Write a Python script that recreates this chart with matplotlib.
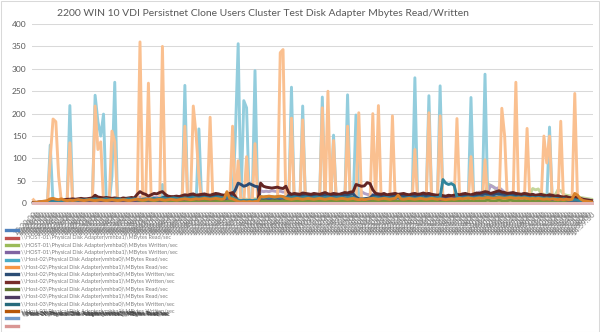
import matplotlib
matplotlib.use("Agg")
import matplotlib.pyplot as plt
from matplotlib.lines import Line2D
from matplotlib.patches import Rectangle
import pandas as pd

plt.rcParams['font.family'] = ['Lato', 'DejaVu Sans']

title = "2200 WIN 10 VDI Persistnet Clone Users Cluster Test Disk Adapter Mbytes Read/Written"

# perfmon sample times (category axis)
times = pd.date_range("2016-10-18 13:20:00", periods=200, freq="30s")
categories = [t.strftime("%H:%M:%S") for t in times]

series_names = [
    "\\\\HOST-01\\Physical Disk Adapter(vmhba0)\\MBytes Read/sec",
    "\\\\HOST-01\\Physical Disk Adapter(vmhba1)\\MBytes Read/sec",
    "\\\\HOST-01\\Physical Disk Adapter(vmhba0)\\MBytes Written/sec",
    "\\\\HOST-01\\Physical Disk Adapter(vmhba1)\\MBytes Written/sec",
    "\\\\Host-02\\Physical Disk Adapter(vmhba0)\\MBytes Read/sec",
    "\\\\Host-02\\Physical Disk Adapter(vmhba1)\\MBytes Read/sec",
    "\\\\Host-02\\Physical Disk Adapter(vmhba0)\\MBytes Written/sec",
    "\\\\Host-02\\Physical Disk Adapter(vmhba1)\\MBytes Written/sec",
    "\\\\Host-03\\Physical Disk Adapter(vmhba0)\\MBytes Read/sec",
    "\\\\Host-03\\Physical Disk Adapter(vmhba1)\\MBytes Read/sec",
    "\\\\Host-03\\Physical Disk Adapter(vmhba0)\\MBytes Written/sec",
    "\\\\Host-03\\Physical Disk Adapter(vmhba1)\\MBytes Written/sec",
    "\\\\Host-04\\Physical Disk Adapter(vmhba0)\\MBytes Read/sec",
    "\\\\Host-04\\Physical Disk Adapter(vmhba1)\\MBytes Read/sec",
]

h1_hba0_read = [
    0, 0, 0, 0, 0, 0, 1, 1, 1, 0, 0, 0, 0, 1, 1, 0, 0, 0, 0, 0,
    0, 0, 1, 1, 1, 0, 0, 0, 0, 0, 0, 0, 0, 0, 0, 0, 0, 0, 1, 0,
    0, 1, 0, 0, 0, 0, 1, 0, 0, 0, 0, 0, 0, 0, 1, 0, 0, 0, 0, 1,
    0, 0, 0, 1, 0, 0, 0, 0, 0, 0, 0, 1, 0, 1, 0, 1, 1, 0, 0, 1,
    0, 0, 0, 0, 0, 0, 0, 0, 1, 1, 0, 0, 1, 0, 0, 0, 1, 0, 0, 0,
    0, 0, 0, 1, 0, 1, 0, 1, 0, 0, 0, 0, 1, 0, 0, 1, 1, 0, 0, 0,
    0, 1, 0, 1, 0, 0, 0, 0, 1, 0, 0, 0, 0, 0, 0, 0, 1, 0, 0, 0,
    0, 1, 0, 0, 0, 1, 0, 0, 0, 0, 0, 1, 0, 0, 0, 0, 1, 0, 0, 0,
    0, 1, 0, 0, 0, 0, 0, 1, 1, 0, 0, 0, 1, 0, 0, 0, 1, 0, 0, 0,
    0, 0, 1, 1, 1, 0, 0, 0, 1, 0, 0, 0, 0, 1, 0, 0, 0, 0, 0, 0,
]
h1_hba1_read = [
    0, 0, 0, 0, 1, 1, 0, 0, 0, 0, 1, 0, 0, 0, 0, 0, 1, 0, 0, 0,
    0, 1, 0, 0, 0, 0, 0, 0, 1, 0, 0, 0, 0, 0, 1, 0, 0, 0, 0, 0,
    1, 0, 0, 0, 0, 1, 0, 0, 0, 0, 0, 1, 0, 0, 0, 0, 0, 1, 0, 0,
    0, 0, 1, 0, 0, 0, 0, 1, 0, 0, 0, 0, 0, 0, 1, 0, 0, 0, 0, 0,
    1, 0, 0, 0, 0, 0, 1, 0, 0, 0, 0, 0, 0, 1, 0, 0, 0, 0, 0, 1,
    0, 0, 0, 0, 1, 0, 0, 0, 0, 0, 1, 0, 0, 0, 0, 0, 0, 1, 0, 0,
    0, 0, 1, 0, 0, 0, 0, 1, 0, 0, 0, 0, 0, 1, 0, 0, 0, 0, 0, 1,
    0, 0, 0, 0, 1, 0, 0, 0, 0, 0, 1, 0, 0, 0, 0, 0, 1, 0, 0, 0,
    0, 0, 1, 0, 0, 0, 0, 0, 1, 0, 0, 0, 0, 1, 0, 0, 0, 0, 0, 1,
    0, 0, 0, 0, 1, 0, 0, 0, 0, 0, 1, 0, 0, 0, 0, 0, 0, 0, 0, 0,
]
h1_hba0_written = [
    1, 1, 2, 2, 3, 3, 4, 4, 5, 5, 6, 6, 5, 6, 7, 6, 5, 6, 7, 6,
    7, 8, 9, 8, 7, 8, 7, 8, 9, 8, 7, 8, 9, 8, 7, 8, 9, 10, 9, 8,
    9, 10, 9, 8, 9, 10, 11, 10, 9, 10, 11, 10, 9, 10, 11, 12, 11, 10, 11, 12,
    11, 12, 13, 12, 11, 12, 13, 12, 11, 12, 13, 14, 12, 10, 9, 10, 9, 8, 9, 10,
    9, 14, 15, 14, 13, 14, 15, 14, 13, 14, 15, 14, 13, 12, 13, 14, 13, 12, 13, 14,
    13, 14, 15, 14, 13, 14, 15, 14, 13, 14, 15, 16, 15, 14, 15, 12, 10, 11, 10, 11,
    12, 13, 14, 13, 12, 13, 14, 13, 12, 13, 14, 13, 12, 13, 14, 13, 12, 11, 12, 11,
    10, 9, 8, 9, 10, 9, 10, 11, 10, 12, 14, 15, 16, 15, 16, 18, 17, 16, 18, 17,
    18, 19, 44, 40, 37, 30, 22, 20, 21, 22, 20, 21, 22, 21, 20, 22, 21, 20, 33, 30,
    32, 22, 20, 19, 21, 20, 18, 30, 28, 20, 18, 17, 16, 15, 14, 13, 12, 11, 10, 9,
]
h1_hba1_written = [
    1, 2, 2, 3, 3, 4, 4, 5, 5, 6, 6, 7, 7, 8, 8, 7, 8, 9, 8, 9,
    10, 10, 12, 11, 10, 10, 11, 10, 9, 10, 9, 9, 10, 9, 10, 11, 10, 12, 14, 13,
    12, 11, 12, 14, 13, 14, 15, 13, 12, 12, 12, 13, 12, 14, 15, 14, 15, 16, 15, 16,
    17, 18, 17, 16, 18, 19, 18, 17, 16, 18, 19, 20, 16, 6, 5, 5, 6, 5, 5, 6,
    6, 28, 26, 27, 26, 28, 27, 26, 27, 25, 26, 20, 18, 19, 18, 17, 19, 18, 17, 18,
    19, 18, 17, 19, 20, 18, 17, 19, 18, 17, 19, 20, 19, 21, 22, 20, 18, 26, 22, 20,
    19, 20, 18, 17, 16, 18, 16, 17, 18, 19, 17, 18, 19, 17, 16, 18, 19, 17, 18, 20,
    18, 19, 17, 16, 15, 16, 14, 13, 15, 14, 15, 17, 16, 18, 19, 17, 16, 18, 20, 25,
    21, 22, 24, 40, 36, 33, 35, 30, 24, 21, 20, 21, 20, 19, 20, 22, 20, 18, 19, 17,
    18, 19, 17, 16, 18, 17, 15, 16, 14, 13, 14, 12, 11, 13, 11, 10, 9, 8, 7, 6,
]
h2_hba0_read = [
    0, 0, 0, 0, 0, 0, 130, 0, 0, 0, 0, 0, 0, 218, 0, 0, 0, 0, 0, 0,
    0, 0, 241, 182, 150, 199, 0, 0, 60, 270, 0, 0, 0, 0, 0, 0, 0, 0, 0, 0,
    0, 0, 0, 0, 0, 0, 42, 0, 0, 0, 0, 0, 0, 0, 263, 0, 0, 0, 0, 166,
    0, 0, 0, 0, 0, 0, 0, 0, 0, 0, 0, 0, 150, 356, 0, 229, 213, 0, 0, 296,
    0, 0, 0, 0, 0, 0, 0, 0, 0, 0, 0, 0, 259, 0, 0, 0, 217, 0, 0, 0,
    0, 0, 0, 237, 0, 0, 0, 152, 0, 0, 0, 0, 242, 0, 0, 197, 0, 0, 0, 0,
    0, 0, 0, 0, 0, 0, 0, 0, 0, 0, 0, 0, 0, 0, 0, 0, 280, 0, 0, 0,
    0, 240, 0, 0, 0, 262, 0, 0, 0, 0, 0, 0, 0, 0, 0, 0, 236, 0, 0, 0,
    0, 288, 0, 0, 0, 0, 0, 0, 0, 0, 0, 0, 0, 0, 0, 0, 0, 0, 0, 0,
    0, 0, 0, 0, 170, 0, 0, 0, 0, 0, 0, 0, 0, 0, 0, 0, 0, 0, 0, 0,
]
h2_hba1_read = [
    8, 1, 2, 1, 2, 1, 100, 188, 182, 60, 2, 1, 2, 135, 2, 1, 2, 1, 2, 1,
    2, 1, 217, 120, 137, 2, 1, 2, 161, 137, 2, 1, 2, 1, 2, 1, 2, 1, 360, 2,
    1, 268, 2, 1, 2, 1, 350, 2, 1, 2, 1, 2, 1, 2, 172, 2, 1, 217, 153, 60,
    2, 1, 2, 192, 2, 1, 2, 1, 2, 1, 2, 172, 2, 95, 2, 1, 104, 2, 1, 133,
    2, 1, 2, 1, 2, 1, 2, 1, 336, 343, 2, 1, 190, 1, 2, 1, 186, 2, 1, 2,
    1, 2, 1, 213, 2, 250, 2, 140, 2, 1, 2, 1, 172, 2, 1, 2, 202, 2, 1, 2,
    1, 200, 2, 218, 2, 1, 2, 1, 195, 2, 1, 2, 1, 2, 1, 2, 120, 2, 1, 2,
    1, 202, 2, 1, 2, 195, 2, 1, 2, 1, 2, 189, 2, 1, 2, 1, 104, 2, 1, 2,
    1, 97, 2, 1, 2, 1, 2, 212, 150, 2, 1, 2, 270, 2, 1, 2, 167, 2, 1, 2,
    1, 2, 150, 90, 150, 2, 1, 2, 183, 2, 1, 2, 1, 245, 2, 1, 2, 1, 2, 1,
]
h2_hba0_written = [
    1, 1, 2, 2, 2, 2, 3, 3, 3, 4, 5, 6, 7, 7, 8, 7, 8, 9, 8, 8,
    9, 10, 14, 11, 10, 10, 11, 10, 9, 10, 9, 8, 10, 9, 10, 11, 10, 8, 6, 5,
    4, 4, 5, 4, 5, 6, 12, 15, 13, 12, 12, 13, 12, 14, 15, 14, 16, 17, 15, 15,
    16, 17, 15, 14, 16, 18, 17, 15, 14, 16, 18, 20, 30, 45, 42, 38, 40, 44, 41, 38,
    37, 8, 7, 7, 6, 7, 8, 7, 6, 5, 10, 18, 16, 18, 17, 16, 18, 17, 16, 15,
    17, 16, 15, 17, 19, 16, 15, 17, 16, 15, 17, 19, 18, 20, 21, 14, 10, 9, 10, 11,
    12, 18, 17, 16, 15, 17, 14, 15, 16, 17, 15, 16, 17, 15, 14, 16, 17, 15, 16, 18,
    16, 17, 15, 14, 13, 14, 12, 11, 13, 12, 13, 15, 14, 16, 17, 15, 14, 16, 18, 17,
    19, 21, 20, 17, 19, 21, 22, 20, 19, 17, 18, 19, 17, 16, 15, 17, 16, 14, 15, 13,
    14, 15, 13, 12, 14, 13, 11, 12, 10, 9, 10, 8, 7, 9, 7, 6, 5, 4, 3, 2,
]
h2_hba1_written = [
    2, 2, 3, 3, 3, 3, 3, 4, 4, 5, 7, 8, 9, 9, 10, 9, 10, 11, 10, 10,
    11, 12, 18, 14, 13, 12, 13, 12, 11, 12, 11, 10, 12, 11, 12, 13, 12, 20, 26, 22,
    20, 16, 19, 22, 21, 24, 26, 20, 16, 15, 15, 16, 15, 17, 19, 18, 20, 21, 18, 19,
    20, 21, 19, 18, 20, 22, 21, 19, 18, 20, 22, 24, 15, 4, 3, 3, 4, 3, 3, 4,
    4, 45, 38, 36, 35, 34, 35, 36, 34, 33, 38, 24, 20, 22, 21, 20, 23, 22, 21, 20,
    22, 21, 20, 22, 24, 21, 20, 22, 21, 20, 22, 24, 23, 25, 26, 42, 40, 38, 39, 46,
    44, 30, 22, 21, 20, 22, 19, 20, 21, 22, 20, 21, 22, 20, 19, 21, 22, 20, 21, 23,
    21, 22, 20, 19, 18, 19, 17, 16, 18, 17, 18, 20, 19, 21, 22, 20, 19, 21, 23, 22,
    24, 26, 25, 22, 24, 26, 28, 25, 24, 22, 23, 24, 22, 21, 20, 22, 21, 19, 20, 18,
    19, 20, 18, 17, 19, 18, 16, 17, 15, 14, 15, 13, 12, 14, 12, 11, 9, 8, 7, 6,
]
h3_hba0_read = [
    0, 0, 1, 1, 1, 2, 2, 2, 1, 2, 2, 3, 2, 2, 3, 2, 2, 3, 3, 2,
    3, 3, 4, 3, 3, 2, 3, 3, 2, 3, 3, 2, 3, 3, 2, 3, 3, 4, 5, 4,
    3, 4, 5, 4, 3, 4, 5, 4, 3, 3, 4, 3, 4, 5, 4, 3, 4, 5, 4, 5,
    4, 5, 6, 5, 4, 5, 6, 5, 4, 5, 6, 5, 4, 3, 2, 3, 2, 3, 2, 3,
    3, 6, 5, 6, 5, 6, 5, 6, 5, 6, 5, 5, 4, 5, 6, 5, 4, 5, 6, 5,
    4, 5, 6, 5, 4, 5, 6, 5, 4, 5, 6, 5, 4, 5, 6, 4, 3, 4, 3, 4,
    5, 4, 5, 6, 5, 4, 5, 6, 5, 4, 5, 6, 5, 4, 5, 6, 5, 4, 5, 6,
    5, 4, 5, 6, 5, 4, 5, 6, 5, 4, 5, 6, 5, 4, 5, 6, 5, 4, 5, 6,
    5, 6, 7, 6, 5, 6, 7, 6, 5, 6, 7, 6, 5, 6, 5, 6, 5, 4, 5, 4,
    5, 4, 5, 4, 5, 4, 3, 4, 3, 4, 3, 3, 2, 3, 2, 2, 2, 1, 1, 1,
]
h3_hba1_read = [
    0, 1, 1, 2, 2, 3, 3, 3, 4, 4, 5, 5, 6, 5, 6, 7, 6, 5, 6, 7,
    6, 7, 8, 7, 6, 7, 8, 7, 6, 7, 8, 7, 6, 7, 8, 7, 6, 7, 8, 9,
    8, 7, 8, 9, 8, 7, 8, 9, 8, 9, 10, 9, 8, 9, 10, 9, 10, 11, 10, 9,
    10, 11, 10, 9, 10, 11, 12, 11, 10, 11, 12, 11, 8, 5, 4, 5, 4, 5, 4, 5,
    5, 12, 13, 12, 11, 12, 13, 12, 11, 12, 13, 12, 11, 12, 13, 12, 11, 12, 13, 12,
    11, 12, 13, 12, 11, 12, 13, 12, 11, 12, 13, 12, 11, 12, 13, 10, 8, 9, 8, 9,
    10, 11, 12, 11, 10, 11, 12, 11, 10, 11, 12, 11, 10, 11, 12, 11, 10, 11, 12, 11,
    10, 11, 12, 11, 10, 9, 10, 9, 10, 11, 12, 11, 12, 13, 12, 13, 14, 13, 12, 13,
    14, 13, 14, 15, 14, 13, 14, 15, 14, 13, 14, 13, 12, 13, 12, 13, 12, 11, 12, 11,
    12, 11, 10, 11, 10, 9, 10, 9, 8, 9, 8, 7, 6, 7, 6, 5, 4, 4, 3, 2,
]
h3_hba0_written = [
    0, 1, 1, 2, 2, 3, 3, 4, 4, 5, 5, 6, 6, 6, 7, 6, 7, 8, 7, 8,
    8, 9, 10, 9, 8, 9, 10, 9, 8, 9, 10, 9, 8, 9, 10, 9, 10, 9, 8, 9,
    10, 9, 10, 11, 10, 11, 12, 11, 10, 11, 12, 11, 10, 11, 12, 11, 12, 13, 12, 11,
    12, 13, 12, 11, 12, 13, 14, 13, 12, 13, 14, 13, 10, 7, 6, 7, 6, 7, 6, 7,
    7, 14, 13, 14, 13, 14, 13, 14, 13, 14, 13, 12, 13, 14, 13, 12, 13, 14, 13, 12,
    13, 14, 13, 12, 13, 14, 13, 12, 13, 14, 13, 12, 13, 14, 13, 10, 8, 9, 8, 9,
    10, 12, 13, 12, 11, 12, 13, 12, 11, 12, 13, 12, 11, 12, 13, 12, 11, 12, 13, 12,
    11, 12, 13, 12, 13, 14, 53, 45, 42, 44, 40, 14, 13, 12, 13, 14, 13, 12, 13, 14,
    13, 14, 15, 14, 13, 14, 15, 14, 13, 14, 15, 14, 13, 14, 13, 14, 13, 12, 13, 12,
    13, 12, 11, 12, 11, 10, 11, 10, 9, 10, 9, 8, 7, 8, 7, 6, 5, 4, 3, 2,
]
h3_hba1_written = [
    1, 2, 3, 4, 5, 6, 10, 11, 9, 8, 10, 7, 6, 7, 6, 7, 8, 7, 6, 7,
    8, 7, 6, 7, 8, 7, 6, 7, 8, 7, 6, 7, 8, 7, 6, 7, 8, 9, 8, 7,
    8, 9, 8, 7, 8, 9, 8, 7, 8, 9, 8, 7, 8, 9, 10, 9, 8, 9, 10, 9,
    10, 11, 10, 9, 10, 11, 10, 9, 10, 26, 11, 10, 7, 4, 3, 4, 3, 4, 3, 4,
    4, 15, 14, 15, 16, 15, 14, 15, 16, 15, 11, 10, 9, 10, 11, 10, 9, 10, 11, 10,
    9, 10, 11, 10, 9, 10, 11, 10, 9, 10, 11, 10, 9, 10, 11, 9, 8, 9, 8, 9,
    10, 11, 10, 9, 10, 11, 10, 9, 10, 11, 18, 10, 9, 10, 11, 10, 9, 10, 11, 10,
    9, 10, 11, 10, 9, 10, 9, 8, 9, 10, 9, 10, 11, 10, 11, 12, 11, 10, 11, 12,
    11, 12, 13, 12, 11, 12, 13, 12, 11, 12, 13, 12, 11, 12, 11, 12, 11, 10, 11, 10,
    11, 10, 9, 10, 9, 10, 9, 8, 9, 8, 9, 8, 9, 22, 18, 10, 6, 5, 4, 3,
]
h4_hba0_read = [
    0, 0, 0, 0, 0, 0, 0, 0, 0, 0, 0, 0, 0, 0, 0, 0, 0, 0, 0, 0,
    0, 0, 0, 0, 0, 0, 0, 0, 0, 0, 0, 0, 0, 0, 0, 0, 0, 0, 0, 0,
    0, 0, 0, 0, 0, 0, 0, 0, 0, 0, 0, 0, 0, 0, 0, 0, 0, 0, 0, 0,
    0, 0, 0, 0, 0, 0, 0, 0, 0, 0, 0, 0, 0, 0, 0, 0, 0, 0, 0, 0,
    0, 0, 0, 0, 0, 0, 0, 0, 0, 0, 0, 0, 0, 0, 0, 0, 0, 0, 0, 0,
    0, 0, 0, 0, 0, 0, 0, 0, 0, 0, 0, 0, 0, 0, 0, 0, 0, 0, 0, 0,
    0, 0, 0, 0, 0, 0, 0, 0, 0, 0, 0, 0, 0, 0, 0, 0, 0, 0, 0, 0,
    0, 0, 0, 0, 0, 0, 0, 0, 0, 0, 0, 0, 0, 0, 0, 0, 0, 0, 0, 0,
    0, 0, 0, 0, 0, 0, 0, 0, 0, 0, 0, 0, 0, 0, 0, 0, 0, 0, 0, 0,
    0, 0, 0, 0, 0, 0, 0, 0, 0, 0, 0, 0, 0, 0, 0, 0, 0, 0, 0, 0,
]
h4_hba1_read = list(h4_hba0_read)

series = [
    h1_hba0_read, h1_hba1_read, h1_hba0_written, h1_hba1_written,
    h2_hba0_read, h2_hba1_read, h2_hba0_written, h2_hba1_written,
    h3_hba0_read, h3_hba1_read, h3_hba0_written, h3_hba1_written,
    h4_hba0_read, h4_hba1_read,
]

# Office 2010 palette used by the legend keys
colors = ["#4F81BD", "#C0504D", "#9BBB59", "#8064A2", "#4BACC6", "#F79646",
          "#2C4D75", "#772C2A", "#5F7530", "#4D3B62", "#276A7C", "#B65708",
          "#729ACA", "#D99694"]
# the lines themselves come out lighter than the keys for most series
line_colors = ["#8EA9D6", "#D99694", "#C3D69B", "#B3A2C7", "#93CDDD", "#FAC090",
               "#2C4D75", "#632523", "#77933C", "#5F497A", "#31859C", "#D9822B",
               "#A9C1E3", "#E6B9B8"]

fig = plt.figure(figsize=(6.0, 3.32), dpi=100)
W, H = 600.0, 332.0
ax = fig.add_axes([32 / W, 1 - 203.3 / H, (593 - 32) / W, (203.3 - 24) / H])

x = list(range(len(categories)))
for vals, c in zip(series, line_colors):
    ax.plot(x, vals, color=c, lw=2.1, solid_joinstyle="round", clip_on=False)

ax.set_xlim(-0.5, len(categories) - 0.5)
ax.set_ylim(0, 400)
ax.set_yticks(range(0, 401, 50))
ax.tick_params(axis="y", length=0, labelsize=6, labelcolor="#595959", pad=4)
ax.tick_params(axis="x", length=0, pad=5)
ax.yaxis.grid(True, color="#D9D9D9", lw=0.75)
ax.set_axisbelow(True)
for s in ax.spines.values():
    s.set_visible(False)

ax.set_xticks(x)
ax.set_xticklabels(categories, rotation=45, ha="right", va="top",
                   rotation_mode="anchor", fontsize=5.5, color="#7F7F7F")

fig.text(263 / W, 1 - 13 / H, title, ha="center", va="center",
         fontsize=7.5, color="#595959")

# legend drawn by hand: it overflows the chart area at the bottom
row_y = [230, 237.5, 245, 252.3, 259.7, 267, 274.3, 281.7, 289, 296.5,
         303.8, 311, 318.4, 325.8]
for i, (name, c) in enumerate(zip(series_names, colors)):
    yy = 1 - row_y[i] / H
    fig.add_artist(Line2D([6 / W, 18 / W], [yy, yy], color=c, lw=2.4,
                          transform=fig.transFigure))
    if i < 12:
        fig.text(21 / W, yy, name, ha="left", va="center", fontsize=4.0,
                 color="#7F7F7F")
# the last entries have no room and their texts pile up on each other
for k, name in enumerate(series_names[12:] + series_names[8:10]):
    fig.text((21 + 0.6 * k) / W, 1 - (313.5 + 0.5 * (k % 2)) / H, name,
             ha="left", va="center", fontsize=4.0, color="#404040")

fig.add_artist(Rectangle((0.5 / W, 0.5 / H), 1 - 1.5 / W, 1 - 1.5 / H,
                         transform=fig.transFigure, fill=False,
                         edgecolor="#D9D9D9", lw=0.75))

fig.savefig("out.png", dpi=100)
